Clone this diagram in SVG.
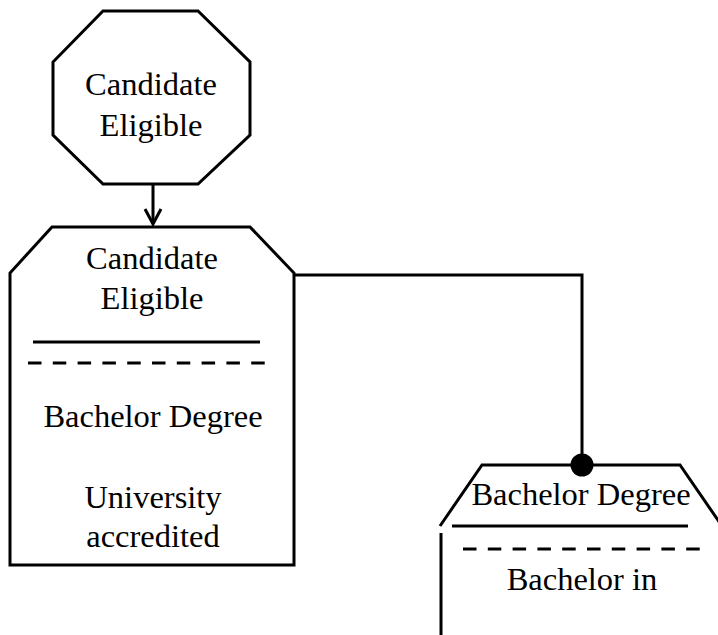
<svg xmlns="http://www.w3.org/2000/svg" width="718" height="635" viewBox="0 0 718 635">
<style>
.shape{fill:#fff;stroke:#000;stroke-width:3;stroke-linejoin:miter}
.ln{stroke:#000;stroke-width:3;fill:none}
.dash{stroke:#000;stroke-width:3;fill:none;stroke-dasharray:13.5 11.3}
text{font-family:"Liberation Serif","Times New Roman",serif;font-size:32.5px;fill:#000;text-anchor:middle}
</style>
<rect width="718" height="635" fill="#fff"/>
<g id="node-octagon">
<polygon class="shape" points="103,11 198,11 250,62 250,135 198,184 103,184 53,135 53,62"/>
<text x="151" y="95">Candidate</text>
<text x="151" y="136">Eligible</text>
</g>
<g id="node-candidate-eligible">
<polygon class="shape" points="52,227 250,227 294,273 294,565 10,565 10,273"/>
<text x="152" y="269">Candidate</text>
<text x="152" y="309">Eligible</text>
<line class="ln" x1="33" y1="342" x2="260" y2="342"/>
<line class="dash" x1="28" y1="363" x2="266" y2="363"/>
<text x="153" y="427">Bachelor Degree</text>
<text x="153" y="508">University</text>
<text x="153" y="547">accredited</text>
</g>
<g id="node-bachelor-degree">
<polyline class="shape" points="440,526 482,465 680,465 722,526"/>
<line class="ln" x1="441" y1="533" x2="441" y2="640"/>
<text x="581" y="505">Bachelor Degree</text>
<line class="ln" x1="452" y1="526" x2="688" y2="526"/>
<line class="dash" x1="463" y1="549" x2="701" y2="549"/>
<text x="582" y="590">Bachelor in</text>
</g>
<g id="connectors">
<line class="ln" x1="153" y1="184" x2="153" y2="224"/>
<polyline class="ln" points="145,209 153,224 161,209"/>
<polyline class="ln" points="293,275 582,275 582,465"/>
<circle cx="582" cy="465" r="11.5" fill="#000"/>
</g>
</svg>
